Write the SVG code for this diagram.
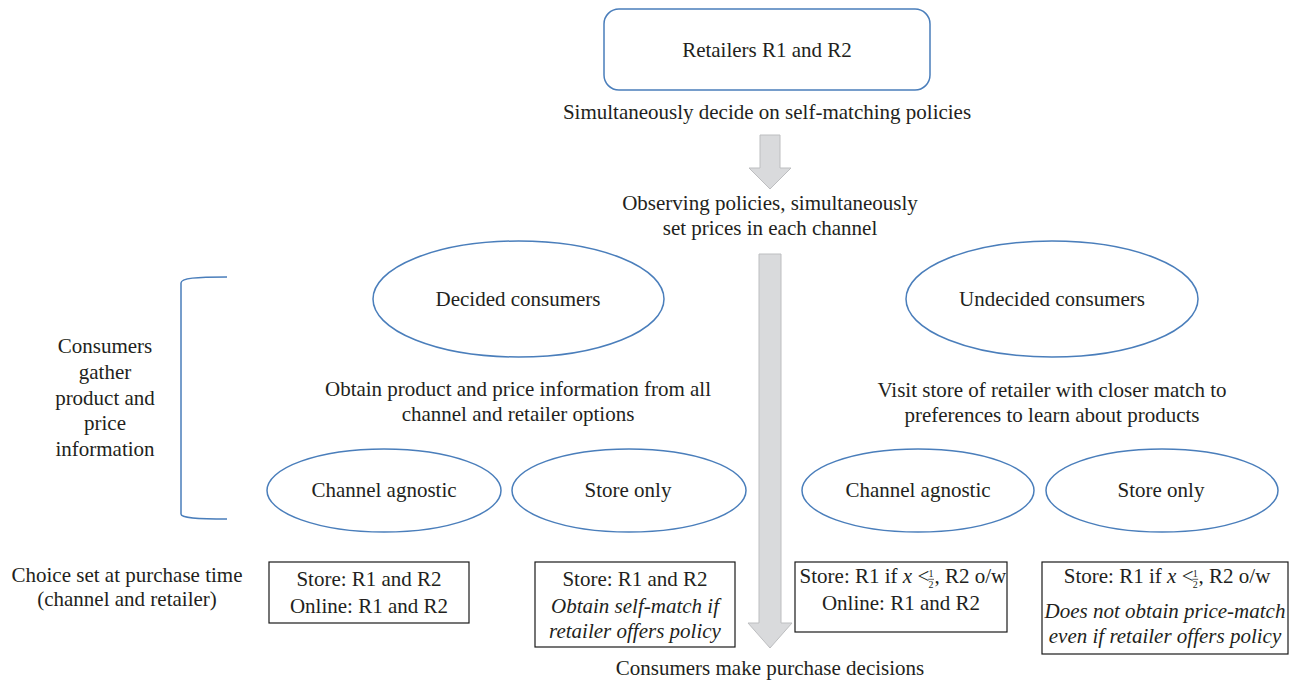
<svg xmlns="http://www.w3.org/2000/svg" width="1310" height="681" viewBox="0 0 1310 681">
<style>
text{font-family:"Liberation Serif","Times New Roman",serif;font-size:21px;fill:#231f20;}
.m{text-anchor:middle;}
.i{font-style:italic;}
.ell{fill:#fff;stroke:#4a7ebb;stroke-width:1.5;}
.box{fill:#fff;stroke:#1a1a1a;stroke-width:1.2;}
.arr{fill:#d9dadc;stroke:#bdbec0;stroke-width:1;}
.fr{font-size:10px;}
</style>
<rect width="1310" height="681" fill="#fff"/>
<g id="connectors">
<path class="arr" d="M760,135 H780 V168 H791 L770,189 L749,168 H760 Z"/>
<path class="arr" d="M759,254 H781 V623 H792 L770,648 L748,623 H759 Z"/>
</g>
<g id="retailers">
<rect x="604" y="9" width="326" height="81" rx="15" fill="#fff" stroke="#4a7ebb" stroke-width="1.5"/>
<text class="m" x="767" y="57">Retailers R1 and R2</text>
</g>
<g id="step-policies"><text class="m" x="767" y="119">Simultaneously decide on self-matching policies</text></g>
<g id="step-prices">
<text class="m" x="770" y="210">Observing policies, simultaneously</text>
<text class="m" x="770" y="235">set prices in each channel</text>
</g>
<g id="gather">
<path d="M227,277 C196,277 181,278 181,283 L181,514 C181,518 196,519 227,519" fill="none" stroke="#4a7ebb" stroke-width="1.5"/>
<text class="m" x="105" y="353">Consumers</text>
<text class="m" x="105" y="379">gather</text>
<text class="m" x="105" y="405">product and</text>
<text class="m" x="105" y="430">price</text>
<text class="m" x="105" y="456">information</text>
</g>
<g id="decided">
<ellipse class="ell" cx="518.5" cy="299" rx="145.5" ry="58"/>
<text class="m" x="518" y="306">Decided consumers</text>
</g>
<g id="decided-info">
<text class="m" x="518" y="396">Obtain product and price information from all</text>
<text class="m" x="518" y="421">channel and retailer options</text>
</g>
<g id="undecided">
<ellipse class="ell" cx="1052" cy="299" rx="146" ry="58"/>
<text class="m" x="1052" y="306">Undecided consumers</text>
</g>
<g id="undecided-info">
<text class="m" x="1052" y="397">Visit store of retailer with closer match to</text>
<text class="m" x="1052" y="422">preferences to learn about products</text>
</g>
<g id="decided-agnostic">
<ellipse class="ell" cx="384" cy="490.5" rx="117" ry="41.5"/>
<text class="m" x="384" y="497">Channel agnostic</text>
</g>
<g id="decided-store">
<ellipse class="ell" cx="629" cy="490.5" rx="117" ry="41.5"/>
<text class="m" x="628" y="497">Store only</text>
</g>
<g id="undecided-agnostic">
<ellipse class="ell" cx="918" cy="490.5" rx="116" ry="41.5"/>
<text class="m" x="918" y="497">Channel agnostic</text>
</g>
<g id="undecided-store">
<ellipse class="ell" cx="1162" cy="490.5" rx="116" ry="41.5"/>
<text class="m" x="1161" y="497">Store only</text>
</g>
<g id="choice-label">
<text class="m" x="127" y="582">Choice set at purchase time</text>
<text class="m" x="127" y="606">(channel and retailer)</text>
</g>
<g id="choice-1">
<rect class="box" x="269" y="562" width="200" height="61"/>
<text class="m" x="369" y="586">Store: R1 and R2</text>
<text class="m" x="369" y="613">Online: R1 and R2</text>
</g>
<g id="choice-2">
<rect class="box" x="535" y="562" width="200" height="85"/>
<text class="m" x="635" y="586">Store: R1 and R2</text>
<text class="m i" x="635" y="613">Obtain self-match if</text>
<text class="m i" x="635" y="638">retailer offers policy</text>
</g>
<g id="choice-3">
<rect class="box" x="795" y="562" width="212" height="70"/>
<text x="799.6" y="583" font-size="20">Store: R1 if <tspan class="i">x</tspan> &lt;<tspan class="fr" x="928.6" y="577">1</tspan><tspan class="fr" x="928.6" y="588">2</tspan><tspan x="934.4" y="583">, R2 o/w</tspan></text>
<line x1="928.2" y1="579.3" x2="934" y2="579.3" stroke="#231f20" stroke-width="0.7"/>
<text class="m" x="901" y="610">Online: R1 and R2</text>
</g>
<g id="choice-4">
<rect class="box" x="1042" y="562" width="246" height="92"/>
<text x="1063.8" y="583" font-size="20">Store: R1 if <tspan class="i">x</tspan> &lt;<tspan class="fr" x="1192.8" y="577">1</tspan><tspan class="fr" x="1192.8" y="588">2</tspan><tspan x="1198.6" y="583">, R2 o/w</tspan></text>
<line x1="1192.4" y1="579.3" x2="1198.2" y2="579.3" stroke="#231f20" stroke-width="0.7"/>
<text class="m i" x="1165" y="618">Does not obtain price-match</text>
<text class="m i" x="1165" y="643">even if retailer offers policy</text>
</g>
<g id="final"><text class="m" x="770" y="675">Consumers make purchase decisions</text></g>
</svg>
